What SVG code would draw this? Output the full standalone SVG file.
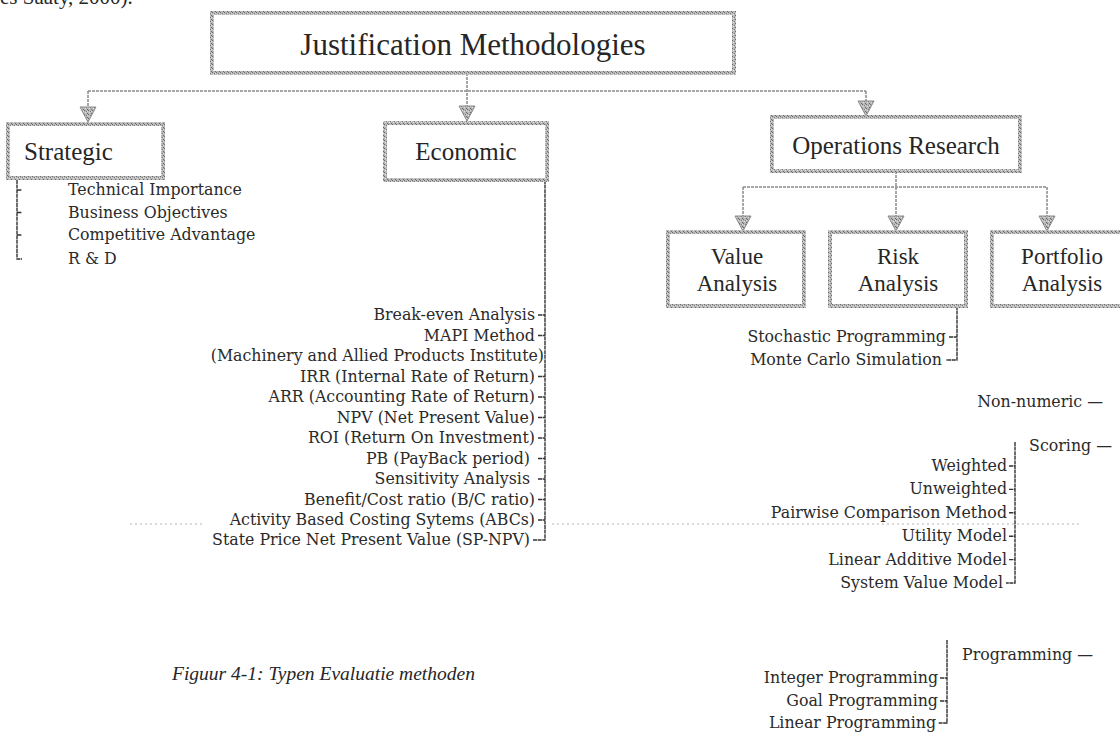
<svg xmlns="http://www.w3.org/2000/svg" xmlns:xlink="http://www.w3.org/1999/xlink" width="1120" height="733" viewBox="0 0 1120 733">
  <style>
    .box { fill: #ffffff; stroke: url(#grain); stroke-width: 4; }
    .conn { fill: none; stroke: #8a8a8a; stroke-width: 1.5; stroke-dasharray: 3 1; }
    .brk { fill: none; stroke: #333333; stroke-width: 1.4; stroke-dasharray: 4 0.6; }
    .head { fill: url(#grain); stroke: #8a8a8a; stroke-width: 1; }
    .title { font-family: "Liberation Serif", "Times New Roman", serif; fill: #262626; }
    .item { font-family: "DejaVu Serif", "Liberation Serif", serif; font-size: 15.8px; fill: #2a2a2a; }
    .r { text-anchor: end; }
    .m { text-anchor: middle; }
    .rule { fill: none; stroke: #b4b4b4; stroke-width: 1; stroke-dasharray: 2 3; }
  </style>
  <defs>
    <pattern id="grain" width="4" height="4" patternUnits="userSpaceOnUse">
      <rect width="4" height="4" fill="#b8b8b8"/>
      <rect x="0" y="0" width="1" height="1" fill="#6a6a6a"/>
      <rect x="2" y="1" width="1" height="1" fill="#7a7a7a"/>
      <rect x="1" y="2" width="1" height="1" fill="#e0e0e0"/>
      <rect x="3" y="3" width="1" height="1" fill="#6a6a6a"/>
      <rect x="3" y="1" width="1" height="1" fill="#dcdcdc"/>
    </pattern>
    <!-- downward arrowhead, tip at (0,0) -->
    <path id="arrowHead" class="head" d="M -8 -15 L 8 -15 L 0 0 Z"/>
  </defs>

  <rect width="1120" height="733" fill="#ffffff"/>

  <!-- running text of the page above the figure -->
  <text x="0" y="4" class="title" font-size="21">es Saaty, 2000).</text>

  <!-- faint page rule -->
  <g id="page-rule">
    <line class="rule" x1="130" y1="524" x2="205" y2="524"/>
    <line class="rule" x1="552" y1="524" x2="1080" y2="524"/>
  </g>

  <!-- connectors -->
  <g id="connectors">
    <!-- root to first level -->
    <path class="conn" d="M 467 73 V 118 M 88 91 H 866 M 88 91 V 121 M 866 91 V 115"/>
    <use xlink:href="#arrowHead" x="88" y="122"/>
    <use xlink:href="#arrowHead" x="467" y="121"/>
    <use xlink:href="#arrowHead" x="866" y="116"/>
    <!-- operations research to its three children -->
    <path class="conn" d="M 896 171 V 230 M 743 187 H 1047 M 743 187 V 230 M 1047 187 V 230"/>
    <use xlink:href="#arrowHead" x="743" y="231"/>
    <use xlink:href="#arrowHead" x="896" y="231"/>
    <use xlink:href="#arrowHead" x="1047" y="231"/>

    <!-- strategic list bracket -->
    <path class="brk" d="M 17 180 V 259 H 22 M 17 190 H 22 M 17 212.5 H 22 M 17 235 H 22"/>
    <!-- economic list bracket -->
    <path class="brk" d="M 545 180 V 540 H 533
      M 538 315 H 545 M 538 335.5 H 545 M 538 376.5 H 545 M 538 397 H 545
      M 538 417.5 H 545 M 538 438 H 545 M 538 458.5 H 545 M 538 479 H 545
      M 538 499.5 H 545 M 538 520 H 545"/>
    <!-- risk analysis bracket -->
    <path class="brk" d="M 957 306 V 360 H 946 M 949 337 H 957"/>
    <!-- scoring bracket -->
    <path class="brk" d="M 1015 442 V 583 H 1006
      M 1009 466 H 1015 M 1009 489.4 H 1015 M 1009 512.8 H 1015
      M 1009 536.2 H 1015 M 1009 559.6 H 1015"/>
    <!-- programming bracket -->
    <path class="brk" d="M 947 640 V 723 H 938 M 940 678 H 947 M 940 701 H 947"/>
  </g>

  <!-- root -->
  <g id="node-root">
    <rect class="box" x="212" y="13" width="522" height="60"/>
    <text class="title m" x="473" y="55" font-size="31">Justification Methodologies</text>
  </g>

  <!-- first level -->
  <g id="node-strategic">
    <rect class="box" x="8" y="124" width="155" height="54"/>
    <text class="title" x="24" y="160" font-size="25">Strategic</text>
  </g>
  <g id="node-economic">
    <rect class="box" x="385" y="123" width="162" height="57"/>
    <text class="title m" x="466" y="160" font-size="25">Economic</text>
  </g>
  <g id="node-operations-research">
    <rect class="box" x="772" y="117" width="248" height="54"/>
    <text class="title m" x="896" y="154" font-size="25">Operations Research</text>
  </g>

  <!-- second level under operations research -->
  <g id="node-value-analysis">
    <rect class="box" x="668" y="232" width="136" height="74"/>
    <text class="title m" x="737" y="264" font-size="23">Value</text>
    <text class="title m" x="737" y="291" font-size="23">Analysis</text>
  </g>
  <g id="node-risk-analysis">
    <rect class="box" x="830" y="232" width="136" height="74"/>
    <text class="title m" x="898" y="264" font-size="23">Risk</text>
    <text class="title m" x="898" y="291" font-size="23">Analysis</text>
  </g>
  <g id="node-portfolio-analysis">
    <rect class="box" x="992" y="232" width="142" height="74"/>
    <text class="title m" x="1062" y="264" font-size="23">Portfolio</text>
    <text class="title m" x="1062" y="291" font-size="23">Analysis</text>
  </g>

  <!-- strategic items -->
  <g id="strategic-items">
    <text class="item" x="68" y="195">Technical Importance</text>
    <text class="item" x="68" y="217.5">Business Objectives</text>
    <text class="item" x="68" y="240">Competitive Advantage</text>
    <text class="item" x="68" y="264">R &amp; D</text>
  </g>

  <!-- economic items -->
  <g id="economic-items">
    <text class="item r" x="535" y="320">Break-even Analysis</text>
    <text class="item r" x="535" y="340.5">MAPI Method</text>
    <text class="item r" x="544" y="361">(Machinery and Allied Products Institute)</text>
    <text class="item r" x="535" y="381.5">IRR (Internal Rate of Return)</text>
    <text class="item r" x="535" y="402">ARR (Accounting Rate of Return)</text>
    <text class="item r" x="535" y="422.5">NPV (Net Present Value)</text>
    <text class="item r" x="535" y="443">ROI (Return On Investment)</text>
    <text class="item r" x="530" y="463.5">PB (PayBack period)</text>
    <text class="item r" x="530" y="484">Sensitivity Analysis</text>
    <text class="item r" x="535" y="504.5">Benefit/Cost ratio (B/C ratio)</text>
    <text class="item r" x="535" y="525">Activity Based Costing Sytems (ABCs)</text>
    <text class="item r" x="530" y="545">State Price Net Present Value (SP-NPV)</text>
  </g>

  <!-- risk analysis items -->
  <g id="risk-items">
    <text class="item r" x="946" y="342">Stochastic Programming</text>
    <text class="item r" x="942" y="365">Monte Carlo Simulation</text>
  </g>

  <!-- portfolio analysis groups -->
  <g id="portfolio-nonnumeric">
    <text class="item r" x="1103" y="407">Non-numeric —</text>
  </g>
  <g id="portfolio-scoring">
    <text class="item r" x="1112" y="451">Scoring —</text>
    <text class="item r" x="1007" y="471">Weighted</text>
    <text class="item r" x="1007" y="494.4">Unweighted</text>
    <text class="item r" x="1007" y="517.8">Pairwise Comparison Method</text>
    <text class="item r" x="1007" y="541.2">Utility Model</text>
    <text class="item r" x="1007" y="564.6">Linear Additive Model</text>
    <text class="item r" x="1003" y="588">System Value Model</text>
  </g>
  <g id="portfolio-programming">
    <text class="item r" x="1093" y="660">Programming —</text>
    <text class="item r" x="938" y="683">Integer Programming</text>
    <text class="item r" x="938" y="706">Goal Programming</text>
    <text class="item r" x="936" y="728">Linear Programming</text>
  </g>

  <!-- caption -->
  <text x="172" y="680" font-family="Liberation Serif, Times New Roman, serif" font-style="italic" font-size="19.5" fill="#262626">Figuur 4-1: Typen Evaluatie methoden</text>
</svg>
